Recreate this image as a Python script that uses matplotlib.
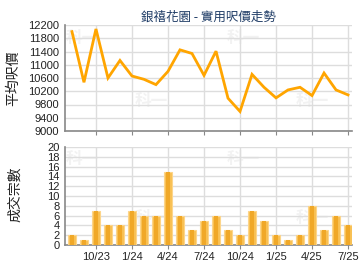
import numpy as np
import matplotlib
matplotlib.use('Agg')
import matplotlib.pyplot as plt

plt.rcParams['font.family'] = ['Liberation Sans', 'Noto Sans CJK TC', 'DejaVu Sans']

# -------- DATA ----------------------------
months = ['8/23', '9/23', '10/23', '11/23', '12/23', '1/24', '2/24', '3/24',
          '4/24', '5/24', '6/24', '7/24', '8/24', '9/24', '10/24', '11/24',
          '12/24', '1/25', '2/25', '3/25', '4/25', '5/25', '6/25', '7/25']
price = [12000, 10470, 12080, 10600, 11130, 10660, 10560, 10400,
         10800, 11450, 11340, 10680, 11410, 9990, 9590, 10710,
         10320, 10000, 10240, 10320, 10070, 10750, 10240, 10090]
deals = [2, 1, 7, 4, 4, 7, 6, 6, 15, 6, 3, 5, 6, 3, 2, 7, 5, 2, 1, 2, 8, 3, 6, 4]
tick_labels = ['10/23', '1/24', '4/24', '7/24', '10/24', '1/25', '4/25', '7/25']

title = '銀禧花園 - 實用呎價走勢'
x = np.arange(len(months))
tick_pos = [months.index(m) for m in tick_labels]

# -------- PLOTTING -------------------------------
fig = plt.figure(figsize=(3.6, 2.7), dpi=100)
W, H = 360, 270
def box(l, t, r, b):
    return [l / W, 1 - b / H, (r - l) / W, (b - t) / H]

grid_c = '#dddddd'
spine_c = '#888888'
txt_c = '#222222'

ax1 = fig.add_axes(box(65, 25, 352, 131))
ax2 = fig.add_axes(box(65, 147, 352, 245))

for ax in (ax1, ax2):
    ax.set_xlim(-0.58, 23.33)
    ax.set_xticks(tick_pos)
    for s in ('top', 'right'):
        ax.spines[s].set_visible(False)
    for s in ('left', 'bottom'):
        ax.spines[s].set_color(spine_c)
        ax.spines[s].set_linewidth(1.2)
    ax.grid(True, color=grid_c, linewidth=1.0, zorder=0)
    ax.set_axisbelow(True)
    ax.tick_params(axis='y', length=0, labelsize=8, labelcolor=txt_c, pad=4)
    ax.tick_params(axis='x', length=3, color=spine_c, labelsize=8, labelcolor=txt_c, pad=2)
    # faint watermarks
    for (wx, wy) in [(0.06, 0.88), (0.62, 0.88), (0.30, 0.28), (0.86, 0.28)]:
        ax.text(wx, wy, '科一', transform=ax.transAxes, fontsize=12, fontweight='bold',
                color='#f2f2f2', ha='center', va='center', zorder=0.5,
                family=['Noto Sans CJK TC'])

# Top: price line
ax1.plot(x, price, color='#FFA500', linewidth=2, solid_joinstyle='miter', zorder=3)
ax1.set_ylim(9000, 12200)
ax1.set_yticks(np.arange(9000, 12201, 400))
ax1.set_xticklabels([])
ax1.set_title(title, fontsize=9, color='#1F3C66', pad=3,
              family=['Noto Sans CJK TC', 'DejaVu Sans'])
fig.text(13 / W, 1 - 78 / H, '平均呎價', rotation=90, ha='center', va='center',
         fontsize=10, color=txt_c, family=['Noto Sans CJK TC'])

# Bottom: deals bars
ax2.bar(x, deals, width=0.68, color='#F8C053', edgecolor='#FDD58A', linewidth=0.8, zorder=3)
ax2.bar(x, deals, width=0.3, color='#F0A828', linewidth=0, zorder=3)
ax2.set_ylim(0, 20)
ax2.set_yticks(np.arange(0, 21, 2))
ax2.set_xticklabels(tick_labels)
fig.text(15 / W, 1 - 194 / H, '成交宗數', rotation=90, ha='center', va='center',
         fontsize=10, color=txt_c, family=['Noto Sans CJK TC'])

fig.savefig('out.png', dpi=100)
